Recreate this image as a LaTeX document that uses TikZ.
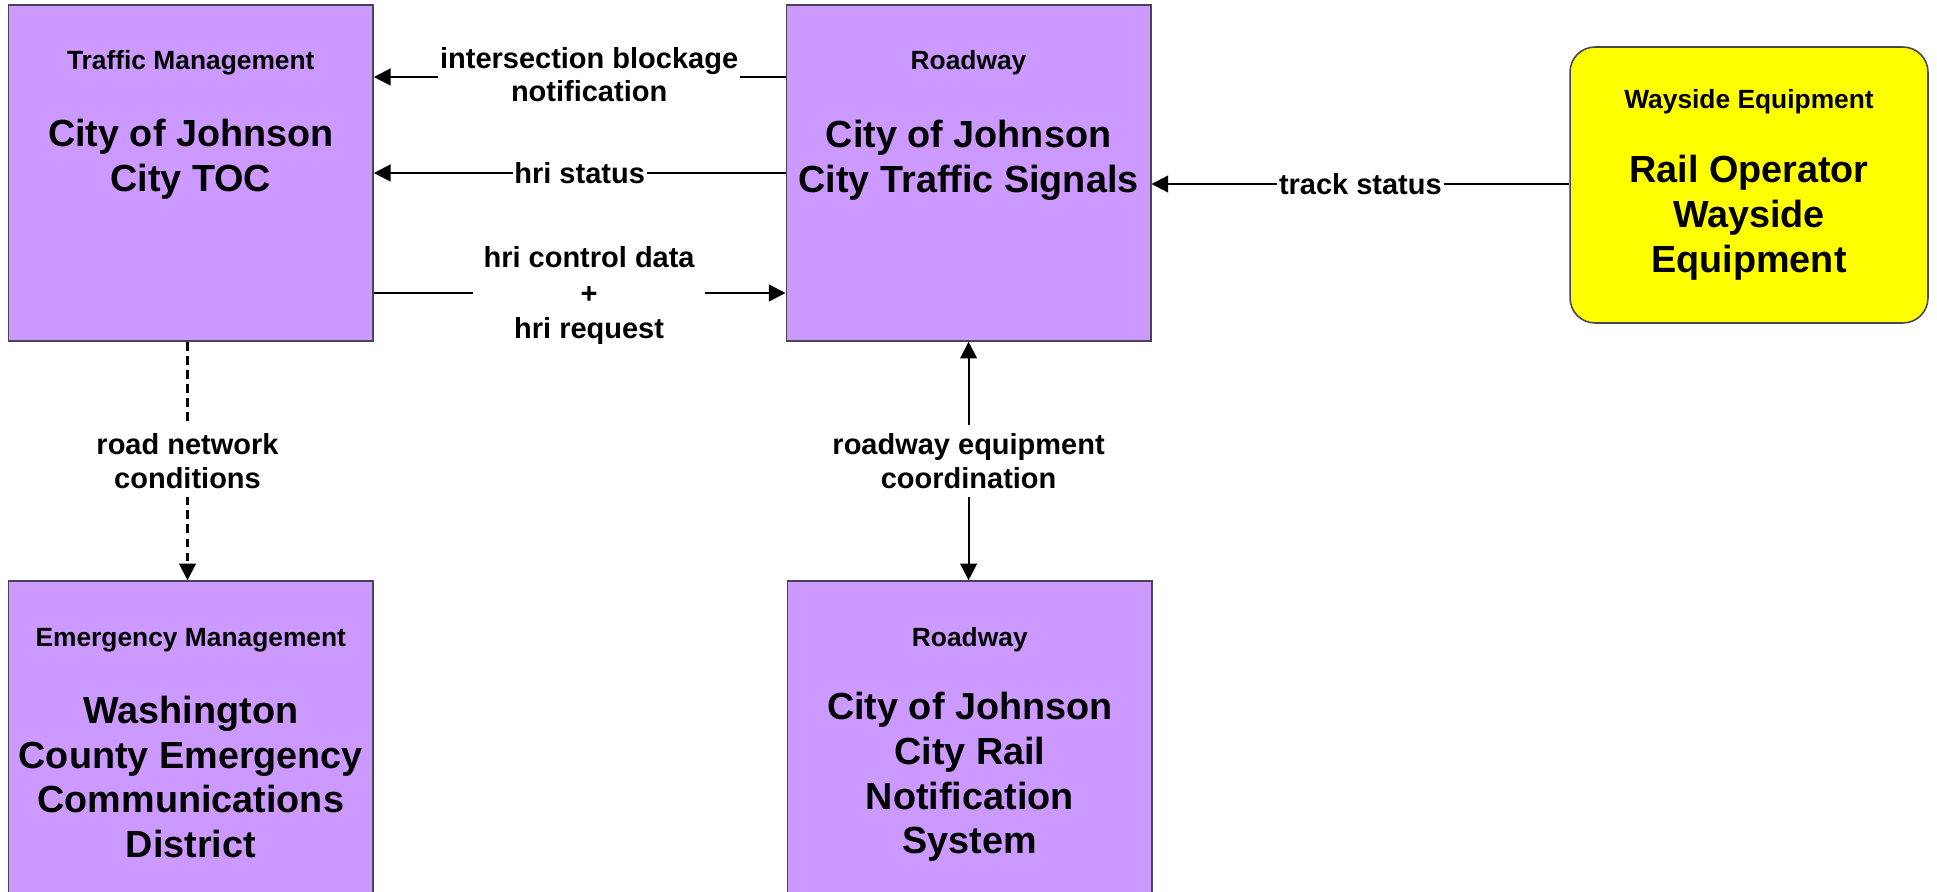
\documentclass[tikz,border=0pt]{standalone}
\usepackage{fontspec}
\setmainfont{Liberation Sans}
\usetikzlibrary{positioning,arrows.meta,calc}
\definecolor{sysFill}{HTML}{CC99FF}
\definecolor{wayFill}{HTML}{FFFF00}
\definecolor{sysBorder}{HTML}{4A4458}
\definecolor{ink}{HTML}{000000}
\newcommand{\catfont}{\fontsize{15}{18}\selectfont}
\newcommand{\namefont}{\fontsize{21.5}{25.5}\selectfont}
\newcommand{\flowfont}{\fontsize{16.5}{19}\selectfont}

\begin{document}
\begin{tikzpicture}[
    x=0.02cm, y=-0.02cm,
    >={Triangle[length=9.5pt,width=9.5pt]},
    every node/.style={font=\bfseries, text=ink},
    sysbox/.style={
        rectangle, draw=sysBorder, fill=sysFill, line width=0.9pt,
        minimum width=7.29cm, minimum height=6.72cm, inner sep=0pt,
    },
    waybox/.style={sysbox, fill=wayFill, rounded corners=0.5cm,
        minimum width=7.16cm, minimum height=5.52cm},
    cat/.style={font=\bfseries\catfont, align=center},
    sysname/.style={font=\bfseries\namefont, align=center},
    flowlabel/.style={font=\bfseries\flowfont, align=center, fill=white,
        inner xsep=1pt, inner ysep=1pt},
    arr/.style={->, line width=1.3pt, draw=ink},
    vflow/.style={line width=1.2pt, draw=ink},
]
\useasboundingbox (0,0) rectangle (1937,892);
\clip (0,0) rectangle (1937,892);

% --- Top row: TOC and traffic signals ---
\node[sysbox] (toc) at (190.8,173) {};
\node[cat] (tocCat) at (190.8,63) {Traffic Management};
\node[sysname] (tocName) at (190.8,159) {City of Johnson\\City TOC};

\node[sysbox] (signals) at (968.5,173) {};
\node[cat] (signalsCat) at (968.5,63) {Roadway};
\node[sysname] (signalsName) at (968.5,160) {City of Johnson\\City Traffic Signals};

% --- Wayside equipment (rail operator) ---
\node[waybox] (wayside) at (1749,185) {};
\node[cat] (waysideCat) at (1749,102) {Wayside Equipment};
\node[sysname] (waysideName) at (1749,218) {Rail Operator\\Wayside\\Equipment};

% --- Bottom row: runs past the lower edge ---
\node[sysbox] (ecd) at (190.8,749) {};
\node[cat] (ecdCat) at (190.8,640) {Emergency Management};
\node[sysname] (ecdName) at (190.8,777) {Washington\\County Emergency\\Communications\\District};

\node[sysbox] (railnote) at (969.8,749) {};
\node[cat] (railnoteCat) at (969.8,640) {Roadway};
\node[sysname] (railnoteName) at (969.8,777) {City of Johnson\\City Rail\\Notification\\System};

% --- Flow heights ---
\coordinate (ibY) at (0,77);
\coordinate (hsY) at (0,173);
\coordinate (hcY) at (0,293);
\coordinate (tsY) at (0,184);

% --- Flows between TOC and signals ---
\draw[arr] (signals.west |- ibY) -- node[flowlabel, pos=0.477, yshift=1.4pt] (ibLbl)
    {intersection blockage\\notification} (toc.east |- ibY);
\draw[arr] (signals.west |- hsY) -- node[flowlabel] (hsLbl)
    {hri status} (toc.east |- hsY);
\draw[arr] (toc.east |- hcY) -- node[flowlabel, pos=0.523, inner xsep=6pt, yshift=-1.2pt] (hcLbl)
    {hri control data\\[1.5pt]+\\[1pt]hri request} (signals.west |- hcY);

% --- Wayside to signals ---
\draw[arr] (wayside.west |- tsY) -- node[flowlabel] (tsLbl)
    {track status} (signals.east |- tsY);

% --- Vertical flows ---
\draw[vflow, ->, dash pattern=on 5pt off 3pt] (toc.south -| 187.5,0) --
    node[flowlabel, inner ysep=5pt] (rnLbl) {road network\\conditions} (ecd.north -| 187.5,0);
\draw[vflow, <->] (signals.south -| 968.6,0) --
    node[flowlabel, inner ysep=5pt] (recLbl) {roadway equipment\\coordination} (railnote.north -| 968.6,0);

\end{tikzpicture}
\end{document}
